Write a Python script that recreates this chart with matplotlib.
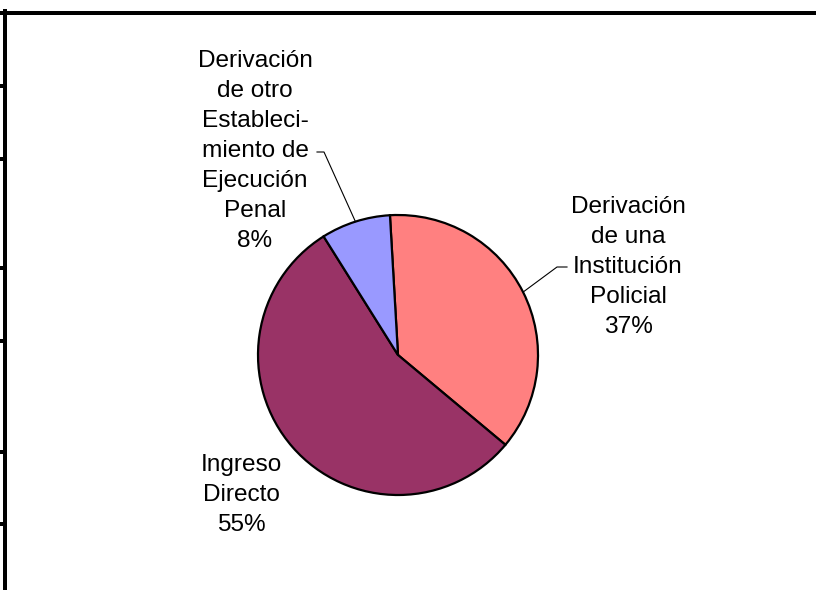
import numpy as np
import matplotlib
matplotlib.use("Agg")
import matplotlib.pyplot as plt
from matplotlib.lines import Line2D

plt.rcParams["font.family"] = ["Liberation Sans", "DejaVu Sans"]

# datos
labels = [
    "Derivación\nde una\nInstitución\nPolicial",
    "Ingreso\nDirecto",
    "Derivación\nde otro\nEstableci-\nmiento de\nEjecución\nPenal",
]
values = [37, 55, 8]
colors = ["#FF8080", "#993366", "#9999FF"]

W, H = 816, 590
fig = plt.figure(figsize=(W / 100, H / 100), dpi=100)

# pie centre (398, 355) px, radius 140 px
cx, cy, r = 398, 355, 140
ax = fig.add_axes([(cx - r) / W, (H - cy - r) / H, 2 * r / W, 2 * r / H])
wedges, _ = ax.pie(values, colors=colors, startangle=93.3, counterclock=False,
                   radius=1, wedgeprops=dict(edgecolor="black", linewidth=1.6))
ax.set_xlim(-1, 1)
ax.set_ylim(-1, 1)
ax.set_aspect("equal")
ax.axis("off")


def px(x, y):
    return (x - cx) / r, (cy - y) / r


# label text centres (pixels) and leader lines (None = no leader)
label_pos = [(628, 267), (241, 495), (255, 151)]
leader_end = [(567, 267), None, (317, 152)]
elbow_dx = [-10, 0, 7]

for w, lab, v, pos, le, edx in zip(wedges, labels, values, label_pos, leader_end, elbow_dx):
    tx, ty = px(*pos)
    ax.text(tx, ty, f"{lab}\n{v}%", ha="center", va="center", fontsize=17.6,
            linespacing=1.47, clip_on=False, multialignment="center")
    if le is not None:
        mid = np.deg2rad((w.theta1 + w.theta2) / 2)
        ex, ey = np.cos(mid), np.sin(mid)
        x1, y1 = px(*le)
        x2, y2 = px(le[0] + edx, le[1])
        ax.plot([x1, x2, ex], [y1, y2, ey], color="black", lw=0.8, clip_on=False)

# frame lines
lw = 4 * 72 / 100
fig.add_artist(Line2D([0, 1], [1 - 13 / H, 1 - 13 / H], color="black", lw=lw))
fig.add_artist(Line2D([5 / W, 5 / W], [0, 1 - 11 / H], color="black", lw=lw))
for ty in [86, 159, 268, 341, 452, 524]:
    fig.add_artist(Line2D([0, 5 / W], [1 - ty / H, 1 - ty / H], color="black", lw=lw))

fig.savefig("out.png", dpi=100)
